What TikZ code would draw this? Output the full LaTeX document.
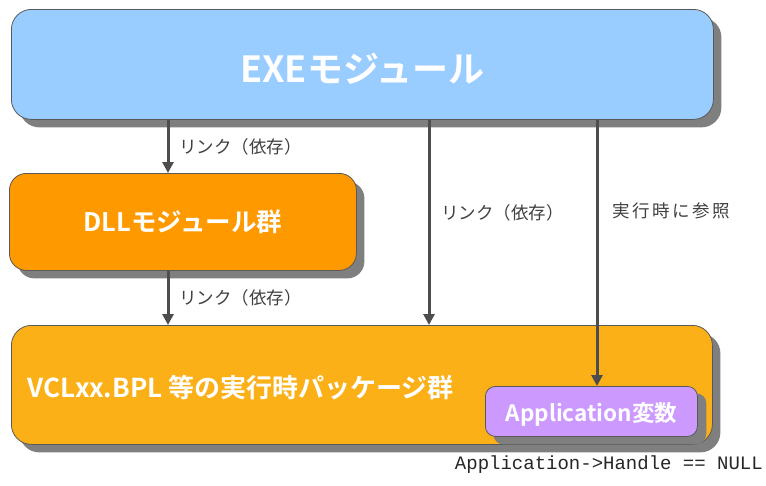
\documentclass[tikz,border=0pt]{standalone}
\usepackage{fontspec}
\usetikzlibrary{arrows.meta,shadows}
\newfontfamily\jp{Noto Sans CJK JP}
\newfontfamily\jpwide[LetterSpace=15]{Noto Sans CJK JP}
\newfontfamily\jpb{Noto Sans CJK JP Bold}
\newfontfamily\mono{Liberation Mono}
\definecolor{exefill}{HTML}{99CCFF}
\definecolor{dllfill}{HTML}{FF9900}
\definecolor{vclfill}{HTML}{FCB018}
\definecolor{appfill}{HTML}{CC99FF}
\definecolor{bordercol}{HTML}{595959}
\definecolor{shadowcol}{HTML}{7F7F7F}
\definecolor{arrowcol}{HTML}{4D4D4D}
\definecolor{labelcol}{HTML}{404040}
\tikzset{
  modbox/.style={draw=bordercol, line width=0.8pt, anchor=north west, inner sep=0pt,
    general shadow={fill=shadowcol, shadow xshift=8pt, shadow yshift=-8pt}},
  titletext/.style={text=white, font=\jpb},
  deparrow/.style={draw=arrowcol, line width=3pt, -{Triangle[width=11pt,length=11pt]}},
  deplabel/.style={text=labelcol, font=\jp\fontsize{17.5}{20}\selectfont, anchor=west, inner sep=0pt},
}
\begin{document}
\begin{tikzpicture}[x=1pt,y=-1pt]
\useasboundingbox (0,0) rectangle (766,485);
% boxes
\node[modbox, fill=exefill, rounded corners=20pt, minimum width=702pt, minimum height=110pt] (exe) at (11,9) {};
\node[modbox, fill=dllfill, rounded corners=17pt, minimum width=347pt, minimum height=97pt] (dll) at (9,173) {};
\node[modbox, fill=vclfill, rounded corners=20pt, minimum width=701pt, minimum height=119pt] (vcl) at (11,325) {};
\node[modbox, fill=appfill, rounded corners=10pt, minimum width=212pt, minimum height=50pt,
  general shadow={fill=shadowcol, shadow xshift=9pt, shadow yshift=-7pt}] (app) at (485,386) {};
% titles
\node[titletext, font=\jpb\fontsize{36}{40}\selectfont] (exet) at ([yshift=-4pt]exe.center) {EXEモジュール};
\node[titletext, font=\jpb\fontsize{25.5}{30}\selectfont] (dllt) at (dll.center) {DLLモジュール群};
\node[titletext, font=\jpb\fontsize{26}{30}\selectfont, anchor=west, inner sep=0pt] (vclt) at (27,388) {VCLxx.BPL 等の実行時パッケージ群};
\node[titletext, font=\jpb\fontsize{22.5}{26}\selectfont] (appt) at ([yshift=-3pt]app.center) {Application変数};
% arrow guide coordinates
\coordinate (c1) at (168,0);
\coordinate (c3) at (429,0);
\coordinate (c4) at (597,0);
% arrows
\draw[deparrow] (c1 |- exe.south) -- (c1 |- dll.north);
\draw[deparrow] (c1 |- dll.south) -- (c1 |- vcl.north);
\draw[deparrow] (c3 |- exe.south) -- (c3 |- vcl.north);
\draw[deparrow] (c4 |- exe.south) -- (c4 |- app.north);
% labels
\node[deplabel] (l1) at (179,147) {リンク（依存）};
\node[deplabel] (l2) at (179,298) {リンク（依存）};
\node[deplabel] (l3) at (441,213) {リンク（依存）};
\node[deplabel, font=\jpwide\fontsize{17.5}{20}\selectfont] (l4) at (612,211) {実行時に参照};
% bottom note
\node[anchor=base east, inner sep=0pt, text=black!85, font=\mono\fontsize{19}{22}\selectfont] (note) at (763,469) {Application->Handle == NULL};
\end{tikzpicture}
\end{document}
